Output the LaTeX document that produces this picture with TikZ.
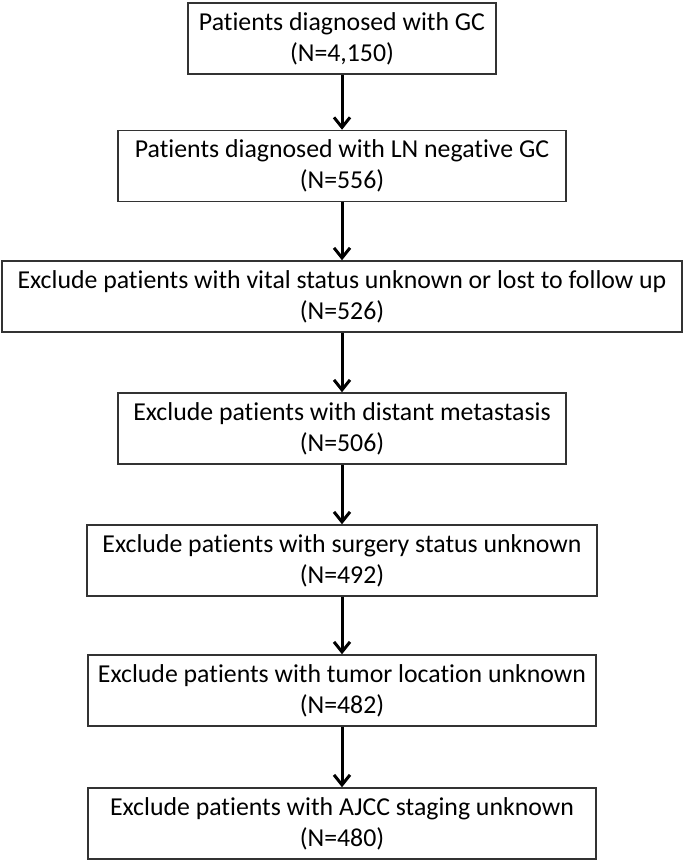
\documentclass[tikz,border=0pt]{standalone}
\usepackage{fontspec}
\setmainfont{Carlito}[Ligatures=NoCommon]
\usepackage{tikz}
\usetikzlibrary{arrows.meta}

\begin{document}
\begin{tikzpicture}[x=0.5pt,y=-0.5pt]
	\tikzstyle{every node}=[font=\fontsize{12.9}{15.5}\selectfont]
	\tikzstyle{box}=[draw=black!80, line width=0.75pt, align=center, minimum height=35.5pt, inner sep=0pt]
	\tikzstyle{arr}=[line width=1.5pt, -{Straight Barb[length=5pt,width=8pt]}]
	
	\useasboundingbox (0,0) rectangle (685,862);
	
	% selection steps, top to bottom
	\node[box, minimum width=154pt] (allgc) at (342,38.5) {Patients diagnosed with GC\\(N=4,150)};
	\node[box, minimum width=224pt] (lnneg) at (342,166) {Patients diagnosed with LN negative GC\\(N=556)};
	\node[box, minimum width=340pt] (vital) at (342,296.5) {Exclude patients with vital status unknown or lost to follow up\\(N=526)};
	\node[box, minimum width=224pt] (meta) at (342,428.5) {Exclude patients with distant metastasis\\(N=506)};
	\node[box, minimum width=255pt] (surg) at (342,560.5) {Exclude patients with surgery status unknown\\(N=492)};
	\node[box, minimum width=254pt] (loc) at (342,690.5) {Exclude patients with tumor location unknown\\(N=482)};
	\node[box, minimum width=254pt] (ajcc) at (342,823.5) {Exclude patients with AJCC staging unknown\\(N=480)};
	
	% arrows
	\foreach \a/\b in {allgc/lnneg, lnneg/vital, vital/meta, meta/surg, surg/loc, loc/ajcc}
		\draw[arr] (\a) -- (\b);
	
\end{tikzpicture}
\end{document}
